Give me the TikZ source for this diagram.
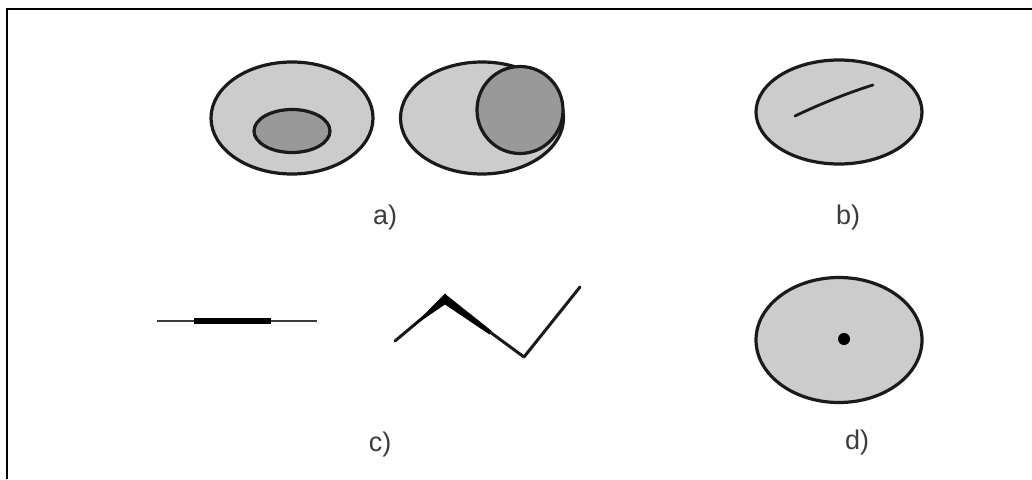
\documentclass[tikz,border=0pt]{standalone}
\usepackage{fontspec}
\setmainfont{Liberation Sans}
\usetikzlibrary{shapes.geometric}
\definecolor{lightfill}{HTML}{CCCCCC}
\definecolor{darkfill}{HTML}{999999}
\definecolor{ink}{HTML}{1A1A1A}
\tikzset{
  region/.style={ellipse, draw=ink, line width=3.2pt, fill=lightfill, inner sep=0pt},
  subregion/.style={ellipse, draw=ink, line width=3.2pt, fill=darkfill, inner sep=0pt},
  caption/.style={font=\fontsize{27}{27}\selectfont, text=ink!85, inner sep=0pt},
  frameline/.style={line width=2.8pt, draw=black},
  thinseg/.style={line width=2.4pt, draw=ink!85},
  thickseg/.style={line width=6pt, draw=black},
}
\begin{document}
\begin{tikzpicture}[x=1pt,y=-1pt]
\useasboundingbox (0,0) rectangle (1032,479);
% frame (top and left edges)
\coordinate (fb) at (7,479);
\coordinate (fc) at (7,9);
\coordinate (fr) at (1032,9);
\draw[frameline] (fb) -- (fc) -- (fr);

% a) region containing a smaller region
\node[region, minimum width=162pt, minimum height=112pt] (a1) at (292,118) {};
\node[subregion, minimum width=76pt, minimum height=43pt] (a1in) at (292,131) {};
% a) region with an inner region touching its boundary
\node[region, minimum width=163pt, minimum height=112pt] (a2) at (482,118) {};
\node[subregion, minimum width=86pt, minimum height=87pt] (a2in) at (520,110) {};
\node[caption] (la) at (385,218) {a)};

% b) region containing a line
\node[region, minimum width=166pt, minimum height=104pt] (b) at (839,112) {};
\coordinate (b1) at (795,116);
\coordinate (b2) at (873,85);
\draw[line width=2.8pt, ink, line cap=round] (b1) .. controls (820,104) and (850,92) .. (b2);
\node[caption] (lb) at (848,218) {b)};

% c) straight line with a thicker sub-segment
\coordinate (c1s) at (157,321);
\coordinate (c1e) at (317,321);
\coordinate (c1a) at (194,321);
\coordinate (c1b) at (271,321);
\draw[thinseg] (c1s) -- (c1e);
\draw[thickseg] (c1a) -- (c1b);

% c) polyline with a thicker, tapered part around its first corner
\coordinate (p1) at (395,341);
\coordinate (p2) at (445,299);
\coordinate (p3) at (524,357);
\coordinate (p4) at (580,287);
\coordinate (q1) at (412,327);
\coordinate (q2) at (491,333);
\draw[line width=3pt, ink, line join=round, line cap=round] (p1) -- (p2) -- (p3) -- (p4);
\fill[black] (q1) -- (442.5,296) -- (445,293.5) -- (447.4,295.8)
  -- (491.2,330.5) -- (489.5,334.5) -- (445,304.5) -- cycle;
\node[caption] (lc) at (380,445) {c)};

% d) region containing a point
\node[region, minimum width=166pt, minimum height=125pt] (d) at (839,340) {};
\node[circle, fill=black, minimum size=12pt, inner sep=0pt] (dp) at (844,339) {};
\node[caption] (ld) at (857,443) {d)};
\end{tikzpicture}
\end{document}
